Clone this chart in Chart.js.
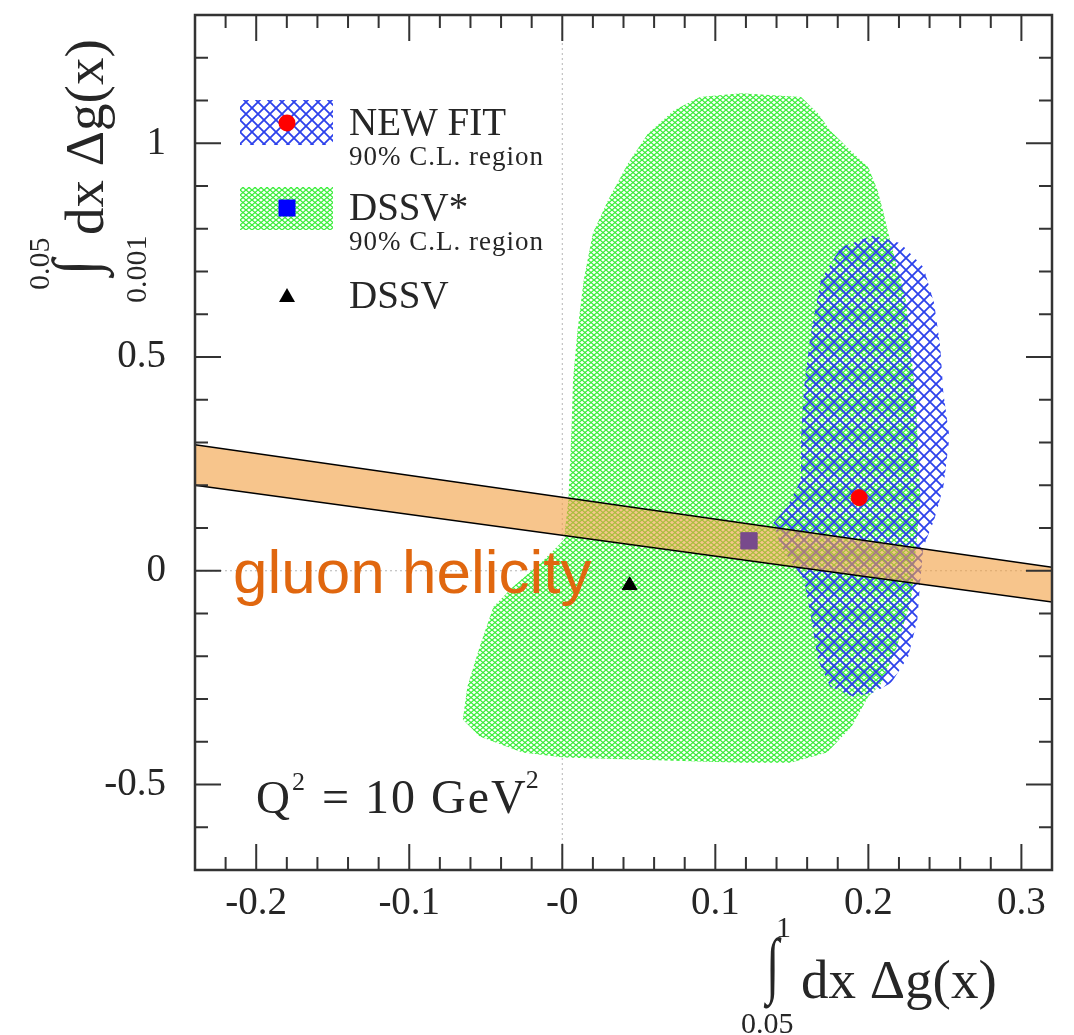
<!DOCTYPE html>
<html>
<head>
<meta charset="utf-8">
<script src="https://cdn.jsdelivr.net/npm/chart.js@4.4.1/dist/chart.umd.min.js"></script>
<style>
    html, body { margin: 0; padding: 0; background: #fff; }
</style>
</head>
<body>
<canvas id="chart" width="1074" height="1035"></canvas>
<script>
// ==========
// Chart data
// ==========
const xRange = [-0.24, 0.32];
const yRange = [-0.7, 1.3];
const xTickValues = [-0.2, -0.1, 0, 0.1, 0.2, 0.3];
const xTickLabels = ['-0.2', '-0.1', '-0', '0.1', '0.2', '0.3'];
const yTickValues = [-0.5, 0, 0.5, 1];
const yTickLabels = ['-0.5', '0', '0.5', '1'];
const xMinorStep = 0.02;
const yMinorStep = 0.1;

// DSSV* 90% C.L. region outline
const dssvStarX = [0.117, 0.156, 0.167, 0.175, 0.190, 0.200, 0.206, 0.210, 0.213, 0.2245, 0.231, 0.234, 0.228, 0.218, 0.208,
    0.200, 0.189, 0.173, 0.149, 0.117, 0.051, 0.001, -0.026, -0.054, -0.065, -0.062, -0.054, -0.045, -0.032, -0.014,
    0.001, 0.004, 0.006, 0.007, 0.010, 0.014, 0.020, 0.030, 0.043, 0.056, 0.073, 0.090, 0.117];
const dssvStarY = [1.117, 1.108, 1.070, 1.030, 0.977, 0.944, 0.890, 0.836, 0.790, 0.633, 0.400, 0.166, -0.068, -0.185, -0.266,
    -0.294, -0.365, -0.425, -0.449, -0.449, -0.442, -0.437, -0.425, -0.388, -0.348, -0.271, -0.178, -0.084, -0.037, 0.019,
    0.072, 0.166, 0.329, 0.446, 0.563, 0.680, 0.790, 0.867, 0.953, 1.023, 1.077, 1.108, 1.117];

// NEW FIT 90% C.L. region outline
const newFitX = [0.2035, 0.221, 0.236, 0.243, 0.247, 0.249, 0.253, 0.249, 0.243, 0.236, 0.234, 0.232, 0.226, 0.215, 0.2035,
    0.190, 0.175, 0.167, 0.162, 0.158, 0.143, 0.138, 0.147, 0.156, 0.156, 0.158, 0.162, 0.169, 0.182, 0.2035];
const newFitY = [0.785, 0.766, 0.710, 0.626, 0.523, 0.416, 0.313, 0.196, 0.119, 0.056, -0.021, -0.115, -0.201, -0.262, -0.285,
    -0.294, -0.271, -0.208, -0.098, -0.021, 0.056, 0.112, 0.150, 0.213, 0.313, 0.430, 0.547, 0.680, 0.757, 0.785];

// gluon helicity band (upper / lower edge)
const bandX = [-0.24, 0.32];
const bandUpper = [0.295, 0.008];
const bandLower = [0.200, -0.073];

// central values
const newFitPoint = [0.194, 0.171];
const dssvStarPoint = [0.122, 0.070];
const dssvPoint = [0.044, -0.034];

// ========
// Patterns
// ========
const ctx = document.getElementById('chart').getContext('2d');

function makeHatch(w, h, color, lw) {
    const c = document.createElement('canvas');
    c.width = w;
    c.height = h;
    const g = c.getContext('2d');
    g.strokeStyle = color;
    g.lineWidth = lw;
    [[0, 0], [w, 0], [-w, 0], [0, h], [0, -h]].forEach(([dx, dy]) => {
        g.beginPath();
        g.moveTo(dx, dy); g.lineTo(dx + w, dy + h);
        g.moveTo(dx + w, dy); g.lineTo(dx, dy + h);
        g.stroke();
    });
    return ctx.createPattern(c, 'repeat');
}

const greenHatch = makeHatch(6, 5, 'rgb(60,238,60)', 1.3);
const blueHatch = makeHatch(12, 12, 'rgb(45,65,235)', 1.8);

const toPoints = (xs, ys) => xs.map((x, i) => ({ x, y: ys[i] }));

// ===========
// Text, frame
// ===========
const SERIF = '"Liberation Serif", "Times New Roman", serif';
const INK = '#262626';

function drawGlyphInBox(c, ch, font, left, top, w, h) {
    c.save();
    c.font = font;
    const m = c.measureText(ch);
    const iw = m.actualBoundingBoxLeft + m.actualBoundingBoxRight;
    const ih = m.actualBoundingBoxAscent + m.actualBoundingBoxDescent;
    c.translate(left, top);
    c.scale(w / iw, h / ih);
    c.textBaseline = 'alphabetic';
    c.fillText(ch, m.actualBoundingBoxLeft, m.actualBoundingBoxAscent);
    c.restore();
}

function text(c, str, x, y, size, family, color) {
    c.font = size + 'px ' + (family || SERIF);
    c.fillStyle = color || INK;
    c.fillText(str, x, y);
    return x + c.measureText(str).width;
}

const framePlugin = {
    id: 'frame',
    afterDraw(chart) {
        const c = chart.ctx;
        const a = chart.chartArea;
        const sx = chart.scales.x;
        const sy = chart.scales.y;
        c.save();

        // inward ticks on all four sides
        c.strokeStyle = '#333';
        c.lineWidth = 2;
        c.beginPath();
        for (let k = Math.ceil(xRange[0] / xMinorStep); k <= Math.floor(xRange[1] / xMinorStep); k++) {
            const v = k * xMinorStep;
            const px = sx.getPixelForValue(v);
            if (px <= a.left + 1 || px >= a.right - 1) continue;
            const major = Math.abs(v * 10 - Math.round(v * 10)) < 1e-6;
            const len = major ? 26 : 13;
            c.moveTo(px, a.bottom); c.lineTo(px, a.bottom - len);
            c.moveTo(px, a.top); c.lineTo(px, a.top + len);
        }
        for (let k = Math.ceil(yRange[0] / yMinorStep - 1e-6); k <= Math.floor(yRange[1] / yMinorStep + 1e-6); k++) {
            const v = k * yMinorStep;
            const py = sy.getPixelForValue(v);
            if (py <= a.top + 1 || py >= a.bottom - 1) continue;
            const major = Math.abs(v * 2 - Math.round(v * 2)) < 1e-6;
            const len = major ? 26 : 13;
            c.moveTo(a.left, py); c.lineTo(a.left + len, py);
            c.moveTo(a.right, py); c.lineTo(a.right - len, py);
        }
        c.stroke();

        c.lineWidth = 2.5;
        c.strokeRect(a.left, a.top, a.right - a.left, a.bottom - a.top);

        // legend
        c.fillStyle = blueHatch;
        c.fillRect(240, 100, 93, 45);
        c.fillStyle = greenHatch;
        c.fillRect(240, 187, 93, 43);
        c.fillStyle = '#ff0000';
        c.beginPath(); c.arc(287, 123, 8.5, 0, Math.PI * 2); c.fill();
        c.fillStyle = '#0000ff';
        c.fillRect(278.5, 199.5, 17, 17);
        c.fillStyle = '#000';
        c.beginPath(); c.moveTo(287, 288); c.lineTo(295, 302); c.lineTo(279, 302); c.closePath(); c.fill();

        text(c, 'NEW FIT', 349, 135, 39);
        text(c, 'DSSV*', 349, 220, 39);
        text(c, 'DSSV', 349, 308, 39);
        c.letterSpacing = '1px';
        text(c, '90% C.L. region', 349, 165, 27);
        text(c, '90% C.L. region', 349, 250, 27);
        c.letterSpacing = '0px';

        // Q^2 label
        text(c, 'Q', 256, 813, 47);
        text(c, '2', 292, 790, 26);
        c.letterSpacing = '2px';
        const end = text(c, '= 10 GeV', 322, 813, 48);
        c.letterSpacing = '0px';
        text(c, '2', end - 2, 788, 26);

        // gluon helicity
        text(c, 'gluon helicity', 233, 593, 62, '"Liberation Sans", Arial, sans-serif', '#e0670f');

        // x axis title
        c.fillStyle = INK;
        drawGlyphInBox(c, '\u222B', '60px ' + SERIF, 764, 937, 18, 73);
        text(c, '1', 776, 937, 30);
        text(c, '0.05', 741, 1033, 30);
        text(c, 'dx \u0394g(x)', 801, 998, 55);

        // y axis title (rotated)
        c.save();
        c.translate(103, 300);
        c.rotate(-Math.PI / 2);
        c.fillStyle = INK;
        drawGlyphInBox(c, '\u222B', '60px ' + SERIF, 22, -52, 22, 64);
        text(c, '0.05', 10, -54, 30);
        text(c, '0.001', -3, 43, 30);
        text(c, 'dx \u0394g(x)', 65, 0, 55);
        c.restore();

        c.restore();
    }
};

// keep the frame where the reference has it
function noScalePadding(s) {
    s.paddingTop = 0;
    s.paddingBottom = 0;
    s.paddingLeft = 0;
    s.paddingRight = 0;
}

// =====
// Chart
// =====
const tickFont = { family: SERIF, size: 39 };

new Chart(ctx, {
    type: 'scatter',
    data: {
        datasets: [
            {
                label: 'NEW FIT',
                data: [{ x: newFitPoint[0], y: newFitPoint[1] }],
                pointStyle: 'circle',
                pointRadius: 8,
                backgroundColor: '#ff0000',
                borderColor: '#ff0000',
                order: 1
            },
            {
                label: 'DSSV',
                data: [{ x: dssvPoint[0], y: dssvPoint[1] }],
                pointStyle: 'triangle',
                pointRadius: 8.5,
                backgroundColor: '#000',
                borderColor: '#000',
                order: 1
            },
            {
                // DSSV* central value, seen through the band
                label: 'DSSV*',
                data: [{ x: dssvStarPoint[0], y: dssvStarPoint[1] }],
                pointStyle: 'rect',
                pointRadius: 11.5,
                backgroundColor: '#784a8c',
                borderColor: '#784a8c',
                order: 2
            },
            {
                label: 'gluon helicity',
                data: [
                    { x: bandX[0], y: bandUpper[0] },
                    { x: bandX[1], y: bandUpper[1] },
                    { x: bandX[1], y: bandLower[1] },
                    { x: bandX[0], y: bandLower[0] },
                    { x: bandX[0], y: bandUpper[0] }
                ],
                showLine: true,
                fill: 'shape',
                backgroundColor: 'rgba(242,158,63,0.6)',
                borderColor: '#000',
                borderWidth: 1.5,
                pointRadius: 0,
                order: 3
            },
            {
                label: 'NEW FIT 90% C.L. region',
                data: toPoints(newFitX, newFitY),
                showLine: true,
                fill: 'shape',
                backgroundColor: blueHatch,
                borderColor: 'transparent',
                pointRadius: 0,
                order: 5
            },
            {
                label: 'DSSV* 90% C.L. region',
                data: toPoints(dssvStarX, dssvStarY),
                showLine: true,
                fill: 'shape',
                backgroundColor: greenHatch,
                borderColor: 'transparent',
                pointRadius: 0,
                order: 6
            },
            {
                label: 'x = 0',
                data: [{ x: 0, y: yRange[0] }, { x: 0, y: yRange[1] }],
                showLine: true,
                borderColor: '#b5b5b5',
                borderWidth: 1,
                borderDash: [2, 3],
                pointRadius: 0,
                order: 7
            },
            {
                label: 'y = 0',
                data: [{ x: xRange[0], y: 0 }, { x: xRange[1], y: 0 }],
                showLine: true,
                borderColor: '#b5b5b5',
                borderWidth: 1,
                borderDash: [2, 3],
                pointRadius: 0,
                order: 7
            }
        ]
    },
    options: {
        responsive: false,
        animation: false,
        layout: { autoPadding: false, padding: { top: 15, right: 22, left: 0, bottom: 0 } },
        plugins: {
            legend: { display: false },
            tooltip: { enabled: false }
        },
        scales: {
            x: {
                type: 'linear',
                min: xRange[0],
                max: xRange[1],
                grid: { display: false, drawTicks: false },
                border: { display: false },
                afterBuildTicks: s => { s.ticks = xTickValues.map(v => ({ value: v })); },
                afterFit: s => { s.height = 165; noScalePadding(s); },
                ticks: {
                    autoSkip: false,
                    maxRotation: 0,
                    padding: 10,
                    color: INK,
                    font: tickFont,
                    callback: (v, i) => xTickLabels[i]
                }
            },
            y: {
                type: 'linear',
                min: yRange[0],
                max: yRange[1],
                grid: { display: false, drawTicks: false },
                border: { display: false },
                afterBuildTicks: s => { s.ticks = yTickValues.map(v => ({ value: v })); },
                afterFit: s => { s.width = 195; noScalePadding(s); },
                ticks: {
                    autoSkip: false,
                    padding: 29,
                    color: INK,
                    font: tickFont,
                    callback: (v, i) => yTickLabels[i]
                }
            }
        }
    },
    plugins: [framePlugin]
});
</script>
</body>
</html>
